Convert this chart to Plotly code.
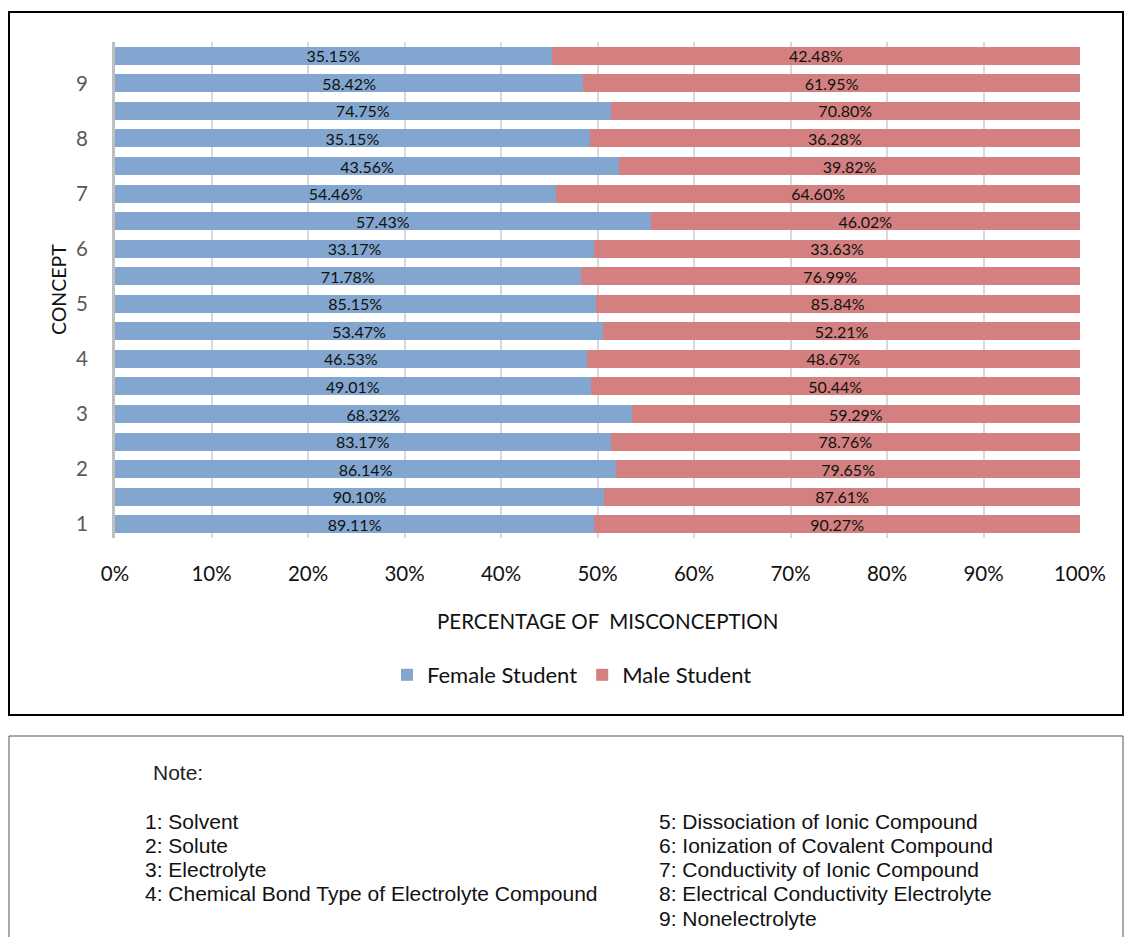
import plotly.graph_objects as go

# Bars from bottom to top
female = [89.11, 90.10, 86.14, 83.17, 68.32, 49.01, 46.53, 53.47, 85.15,
          71.78, 33.17, 57.43, 54.46, 43.56, 35.15, 74.75, 58.42, 35.15]
male = [90.27, 87.61, 79.65, 78.76, 59.29, 50.44, 48.67, 52.21, 85.84,
        76.99, 33.63, 46.02, 64.60, 39.82, 36.28, 70.80, 61.95, 42.48]
concept_ticks = ["1", "2", "3", "4", "5", "6", "7", "8", "9"]
x_ticks = [0, 10, 20, 30, 40, 50, 60, 70, 80, 90, 100]
notes_left = ["1: Solvent", "2: Solute", "3: Electrolyte",
              "4: Chemical Bond Type of Electrolyte Compound"]
notes_right = ["5: Dissociation of Ionic Compound", "6: Ionization of Covalent Compound",
               "7: Conductivity of Ionic Compound", "8: Electrical Conductivity Electrolyte",
               "9: Nonelectrolyte"]

W, H = 1124, 937
L, R, T, B = 115, 1080, 42, 538
PW, PH = R - L, B - T

def px(x):
    return (x - L) / PW

def py(y):
    return (B - y) / PH

FONT = "Lato, Carlito, Calibri, sans-serif"
ARIAL = "Liberation Sans, Arial, sans-serif"

ypos = list(range(len(female)))

fig = go.Figure()
fig.add_trace(go.Bar(
    y=ypos, x=female, orientation="h", name="Female Student",
    marker=dict(color="#82A6CF", line=dict(width=0)),
    text=[f"{v:.2f}%" for v in female], textposition="inside",
    insidetextanchor="middle", constraintext="none",
    textfont=dict(family=FONT, size=16, color="#111111"), width=0.65,
))
fig.add_trace(go.Bar(
    y=ypos, x=male, orientation="h", name="Male Student",
    marker=dict(color="#D48080", line=dict(width=0)),
    text=[f"{v:.2f}%" for v in male], textposition="inside",
    insidetextanchor="middle", constraintext="none",
    textfont=dict(family=FONT, size=16, color="#111111"), width=0.65,
))

fig.update_layout(
    width=W, height=H,
    margin=dict(l=L, r=W - R, t=T, b=H - B, pad=0),
    barmode="stack", barnorm="percent",
    plot_bgcolor="white", paper_bgcolor="white",
    font=dict(family=FONT, color="#222222"),
    legend=dict(orientation="h", x=px(572), xanchor="center", y=py(675), yanchor="middle",
                font=dict(family=FONT, size=22, color="#111111"), traceorder="normal"),
    showlegend=True,
)
fig.update_xaxes(
    range=[0, 100], tickvals=x_ticks, ticktext=[f"{v}%" for v in x_ticks],
    showgrid=True, gridcolor="rgba(170,170,170,0.45)", gridwidth=2,
    layer="above traces", zeroline=False, showline=False,
    ticks="outside", ticklen=17, tickcolor="rgba(0,0,0,0)",
    tickfont=dict(family=FONT, size=20.5, color="#111111"),
    fixedrange=True,
)
fig.update_yaxes(
    range=[-0.5, 17.5], tickvals=[0, 2, 4, 6, 8, 10, 12, 14, 16], ticktext=concept_ticks,
    showgrid=False, zeroline=False, showline=True, linecolor="#BFBFBF", linewidth=3,
    ticks="outside", ticklen=20, tickcolor="rgba(0,0,0,0)",
    tickfont=dict(family=FONT, size=20.5, color="#595959"),
    fixedrange=True,
)

shapes = [
    dict(type="rect", xref="paper", yref="paper", x0=px(9), x1=px(1123), y0=py(715), y1=py(12),
         line=dict(color="black", width=2), fillcolor="rgba(0,0,0,0)", layer="below"),
    dict(type="rect", xref="paper", yref="paper", x0=px(9), x1=px(1123), y0=py(945), y1=py(736),
         line=dict(color="#555555", width=1), fillcolor="rgba(0,0,0,0)", layer="below"),
]
fig.update_layout(shapes=shapes)

ann = [
    dict(text="PERCENTAGE OF\u00a0\u00a0MISCONCEPTION", x=px(607), y=py(621), xref="paper", yref="paper",
         showarrow=False, xanchor="center", yanchor="middle",
         font=dict(family=FONT, size=20.5, color="#111111")),
    dict(text="CONCEPT", x=px(58), y=py(290), xref="paper", yref="paper", textangle=-90,
         showarrow=False, xanchor="center", yanchor="middle",
         font=dict(family=FONT, size=19.5, color="#111111")),
    dict(text="Note:", x=px(151), y=py(772), xref="paper", yref="paper",
         showarrow=False, xanchor="left", yanchor="middle",
         font=dict(family=ARIAL, size=21, color="#222222")),
]
for i, t in enumerate(notes_left):
    ann.append(dict(text=t, x=px(143), y=py(821 + i * 24.3), xref="paper", yref="paper",
                    showarrow=False, xanchor="left", yanchor="middle",
                    font=dict(family=ARIAL, size=21, color="#111111")))
for i, t in enumerate(notes_right):
    ann.append(dict(text=t, x=px(657), y=py(821 + i * 24.3), xref="paper", yref="paper",
                    showarrow=False, xanchor="left", yanchor="middle",
                    font=dict(family=ARIAL, size=21, color="#111111")))
fig.update_layout(annotations=ann)

fig.write_html("out.html")
